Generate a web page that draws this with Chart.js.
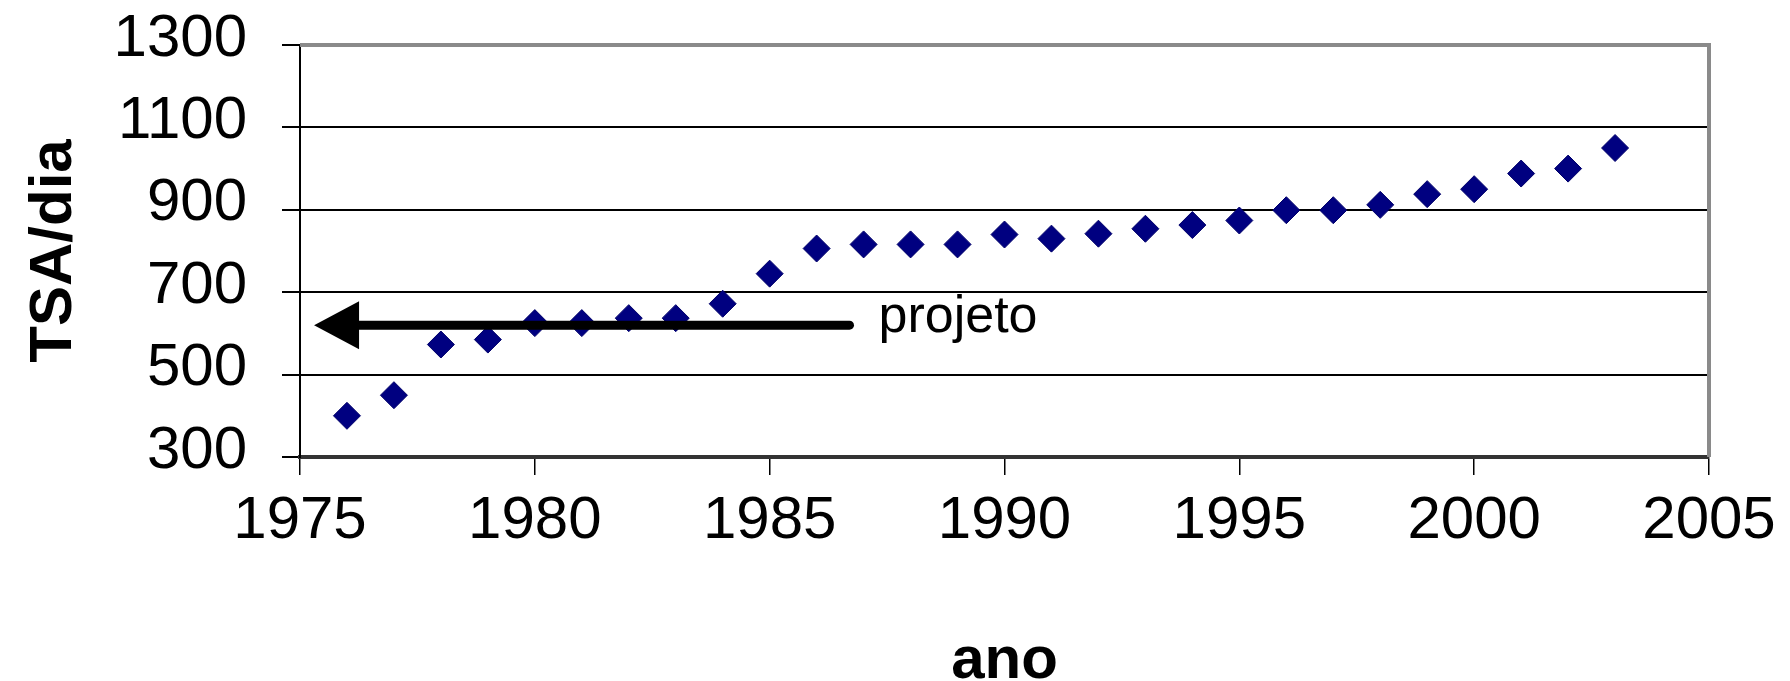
<!DOCTYPE html>
<html>
<head>
<meta charset="utf-8">
<title>TSA/dia por ano</title>
<script src="https://cdn.jsdelivr.net/npm/chart.js@4/dist/chart.umd.min.js"></script>
<style>
  html, body { margin: 0; padding: 0; background: #fff; }
  #wrap { width: 1790px; height: 681px; }
</style>
</head>
<body>
<div id="wrap"><canvas id="grafico" width="1790" height="681"></canvas></div>
<script>
// Série anual de TSA/dia
const anos = [1976, 1977, 1978, 1979, 1980, 1981, 1982, 1983, 1984, 1985,
              1986, 1987, 1988, 1989, 1990, 1991, 1992, 1993, 1994, 1995,
              1996, 1997, 1998, 1999, 2000, 2001, 2002, 2003];
const tsaDia = [400, 450, 573, 585, 625, 625, 637, 637, 672, 745,
                806, 816, 816, 816, 840, 830, 842, 854, 863, 874,
                899, 899, 912, 938, 950, 988, 1000, 1050];

// Marcas dos eixos
const ticksAno = [1975, 1980, 1985, 1990, 1995, 2000, 2005];
const ticksTsa = [300, 500, 700, 900, 1100, 1300];

// Seta "projeto": de (inicio) até (ponta), no nível de TSA/dia indicado
const setaProjetoAnos = [1986.7, 1975.3];
const setaProjetoTsa = [620];
const textoProjeto = 'projeto';

const FONTE = "'Liberation Sans', Arial, Helvetica, sans-serif";

// Moldura cinza (topo e direita), seta e rótulo "projeto"
const decoracao = {
  id: 'decoracao',
  beforeDatasetsDraw(chart) {
    const { ctx, chartArea: a } = chart;
    ctx.save();
    ctx.strokeStyle = '#8a8a8a';
    ctx.lineWidth = 4;
    ctx.beginPath();
    ctx.moveTo(a.left, a.top);
    ctx.lineTo(a.right, a.top);
    ctx.lineTo(a.right, a.bottom);
    ctx.stroke();
    ctx.restore();
  },
  afterDatasetsDraw(chart) {
    const { ctx, scales: { x, y } } = chart;
    const x0 = x.getPixelForValue(setaProjetoAnos[0]);
    const x1 = x.getPixelForValue(setaProjetoAnos[1]);
    const py = y.getPixelForValue(setaProjetoTsa[0]);
    const cab = 45;      // comprimento da ponta
    const meia = 24;     // meia altura da ponta
    ctx.save();
    ctx.strokeStyle = '#000';
    ctx.fillStyle = '#000';
    ctx.lineWidth = 9;
    ctx.lineCap = 'round';
    ctx.beginPath();
    ctx.moveTo(x0, py);
    ctx.lineTo(x1 + cab - 4, py);
    ctx.stroke();
    ctx.beginPath();
    ctx.moveTo(x1, py);
    ctx.lineTo(x1 + cab, py - meia);
    ctx.lineTo(x1 + cab, py + meia);
    ctx.closePath();
    ctx.fill();

    ctx.font = `52px ${FONTE}`;
    ctx.textAlign = 'left';
    ctx.textBaseline = 'alphabetic';
    ctx.fillText(textoProjeto, x0 + 29, py + 7);
    ctx.restore();
  }
};

new Chart(document.getElementById('grafico'), {
  type: 'scatter',
  data: {
    datasets: [{
      label: 'TSA/dia',
      data: anos.map((a, i) => ({ x: a, y: tsaDia[i] })),
      pointStyle: 'rectRot',
      pointRadius: 13.5,
      pointHoverRadius: 13.5,
      backgroundColor: '#000080',
      borderColor: '#00006a',
      borderWidth: 1,
      showLine: false
    }]
  },
  options: {
    responsive: false,
    animation: false,
    devicePixelRatio: 1,
    layout: { padding: { top: 45, right: 81, bottom: 0, left: 0 } },
    plugins: {
      legend: { display: false },
      tooltip: { enabled: false },
      title: { display: false }
    },
    scales: {
      x: {
        type: 'linear',
        min: 1975,
        max: 2005,
        afterBuildTicks(s) { s.ticks = ticksAno.map(v => ({ value: v })); },
        afterFit(s) { s.height = 224; s.paddingLeft = 0; s.paddingRight = 0; },
        grid: { drawOnChartArea: false, drawTicks: true, tickLength: 18, color: '#000', lineWidth: 1.5 },
        border: { display: true, color: '#333', width: 4 },
        ticks: {
          autoSkip: false, maxRotation: 0, padding: 10, color: '#000',
          font: { family: FONTE, size: 60 },
          callback: v => String(v)
        },
        title: {
          display: true, text: 'ano', color: '#000',
          font: { family: FONTE, size: 60, weight: 'bold', lineHeight: 0.65 },
          padding: { top: 0, bottom: 0 }
        }
      },
      y: {
        type: 'linear',
        min: 300,
        max: 1300,
        afterBuildTicks(s) { s.ticks = ticksTsa.map(v => ({ value: v })); },
        afterFit(s) { s.width = 300; s.paddingTop = 0; s.paddingBottom = 0; },
        grid: { drawOnChartArea: true, drawTicks: true, tickLength: 18, color: '#000', lineWidth: 2 },
        border: { display: true, color: '#000', width: 2 },
        ticks: {
          autoSkip: false, padding: 35, labelOffset: -6, color: '#000',
          font: { family: FONTE, size: 60 },
          callback: v => String(v)
        },
        title: {
          display: true, text: 'TSA/dia', color: '#000',
          font: { family: FONTE, size: 60, weight: 'bold', lineHeight: 1.2 },
          padding: { top: 18, bottom: 0 }
        }
      }
    }
  },
  plugins: [decoracao]
});
</script>
</body>
</html>
